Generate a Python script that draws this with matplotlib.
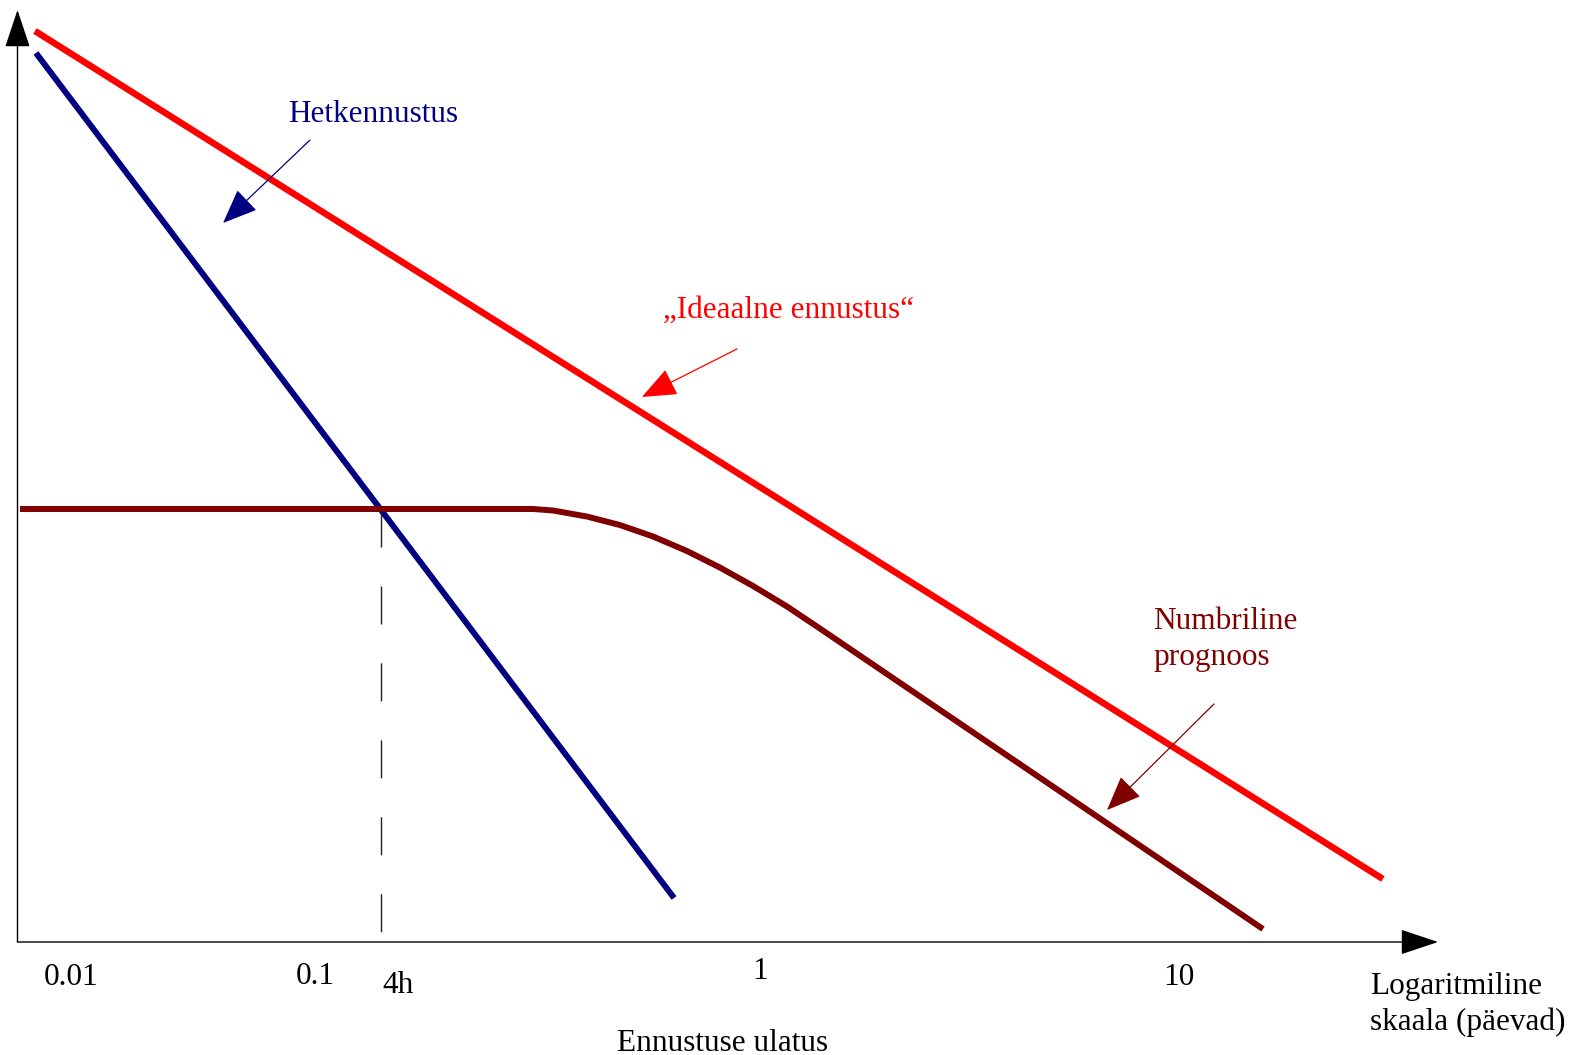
import matplotlib.pyplot as plt

plt.rcParams['font.family'] = ['Liberation Serif', 'DejaVu Serif']
plt.rcParams['lines.scale_dashes'] = False

# schematic curves, x = forecast range (arbitrary log-like units 0..100), y = skill (0..100)
ideal_x = [1.23, 96.12]
ideal_y = [97.75, 6.76]

nowcast_x = [1.30, 46.22]
nowcast_y = [95.39, 4.72]

nwp_x = [0.18, 36.29, 37.70, 40.09, 42.41, 44.74, 47.13, 49.45, 51.78, 54.17, 56.28, 87.68]
nwp_y = [46.46, 46.46, 46.30, 45.65, 44.74, 43.51, 41.95, 40.18, 38.20, 36.00, 33.85, 1.39]

cross_x = 25.57
cross_y = [46.46, 0.75]

tick_pos = [3.8, 20.94, 52.27, 81.77]
tick_labels = ['0.01', '0.1', '1', '10']
tick_base = [-4.6, -4.5, -4.0, -4.6]

NAVY = '#000080'
RED = '#ff0000'
DARKRED = '#800000'
FS = 22.5

fig = plt.figure(figsize=(15.78, 10.55), dpi=100)
ax = fig.add_axes([0.01109, 0.10711, 0.9002, 0.8834])
ax.set_xlim(0, 100)
ax.set_ylim(0, 100)
ax.axis('off')

# axes with arrow heads
axis_arrow = dict(arrowstyle='-|>,head_length=1.2,head_width=0.4', mutation_scale=20,
                  color='black', lw=1.0, shrinkA=0, shrinkB=0)
ax.annotate('', xy=(0, 1), xytext=(0, 0), xycoords='axes fraction',
            textcoords='axes fraction', arrowprops=axis_arrow, annotation_clip=False)
ax.annotate('', xy=(1, 0), xytext=(0, 0), xycoords='axes fraction',
            textcoords='axes fraction', arrowprops=axis_arrow, annotation_clip=False)

ax.plot(ideal_x, ideal_y, color=RED, lw=4.7, solid_capstyle='butt', clip_on=False)
ax.plot(nowcast_x, nowcast_y, color=NAVY, lw=4.3, solid_capstyle='butt', clip_on=False)
ax.plot(nwp_x, nwp_y, color=DARKRED, lw=4.3, solid_capstyle='butt',
        solid_joinstyle='round', clip_on=False)
ax.plot([cross_x, cross_x], cross_y, color='#222222', lw=1.0, dashes=(27.4, 28.0))

for x, lab, b in zip(tick_pos, tick_labels, tick_base):
    ax.text(x, b, lab, ha='center', va='baseline', fontsize=FS, clip_on=False)
ax.text(cross_x + 0.1, -5.5, '4h', ha='left', va='baseline', fontsize=FS, clip_on=False)
ax.text(95.21, -5.6, 'Logaritmiline', ha='left', va='baseline', fontsize=FS, clip_on=False)
ax.text(95.21, -9.4, 'skaala (päevad)', ha='left', va='baseline', fontsize=FS, clip_on=False)
ax.text(49.6, -11.7, 'Ennustuse ulatus', ha='center', va='baseline', fontsize=FS, clip_on=False)

# labels with pointer arrows
def pointer(tail, tip, color):
    ax.annotate('', xy=tip, xytext=tail,
                arrowprops=dict(arrowstyle='-|>,head_length=1.1,head_width=0.45',
                                mutation_scale=20, color=color, lw=0.9,
                                shrinkA=0, shrinkB=0))

ax.text(25.03, 87.98, 'Hetkennustus', color=NAVY, ha='center', va='baseline', fontsize=FS)
pointer((20.59, 86.05), (14.47, 77.15), NAVY)

ax.text(54.28, 66.95, '\u201eIdeaalne ennustus\u201c', color=RED, ha='center',
        va='baseline', fontsize=FS)
pointer((50.65, 63.63), (43.96, 58.48), RED)

ax.text(79.94, 33.58, 'Numbriline', color=DARKRED, ha='left', va='baseline', fontsize=FS)
ax.text(79.94, 29.72, 'prognoos', color=DARKRED, ha='left', va='baseline', fontsize=FS)
pointer((84.23, 25.54), (76.7, 14.16), DARKRED)

fig.savefig('out.png', dpi=100)
